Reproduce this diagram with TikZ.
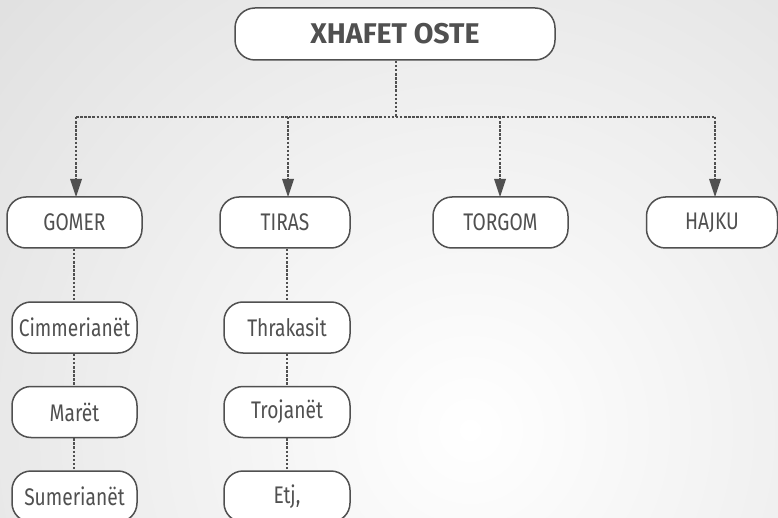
\documentclass[tikz,border=0pt]{standalone}
\usepackage{fontspec}
\setmainfont{Fira Sans}[FakeStretch=0.8]
\newfontfamily\titlefont{Fira Sans}
\usetikzlibrary{arrows.meta}
\definecolor{ink}{HTML}{505050}
\definecolor{bgout}{HTML}{CDCDCD}
\tikzset{
  box/.style={draw=ink, line width=1.5pt, fill=white, rounded corners=19pt,
    text=ink, font=\fontsize{24}{28}\selectfont, minimum height=51pt, inner sep=0pt},
  titlebox/.style={box, rounded corners=20pt, font=\titlefont\fontsize{28.5}{32}\selectfont\bfseries,
    minimum width=320pt, minimum height=52pt},
  dots/.style={draw=ink, line width=2.6pt, dash pattern=on 2.5pt off 1.6pt},
  arr/.style={dots, -{Triangle[width=12pt,length=18pt,fill=ink,line width=0pt]}}
}
\begin{document}
\begin{tikzpicture}[x=1pt,y=-1pt]
\useasboundingbox (0,0) rectangle (778,518);
\begin{scope}
\clip (0,0) rectangle (778,518);
\shade[inner color=white, outer color=bgout] (470,430) circle (1050);
\end{scope}
\node[titlebox] (top) at (395,34) {XHAFET OSTE};
\node[box, minimum width=135pt] (gomer) at (74.5,222.5) {GOMER};
\node[box, minimum width=130pt] (tiras) at (285,222.5) {TIRAS};
\node[box, minimum width=135pt] (torgom) at (500.5,222.5) {TORGOM};
\node[box, minimum width=131pt] (hajku) at (712,222.5) {HAJKU};
\node[box, minimum width=125pt] (cim) at (74.5,327.5) {Cimmerianët};
\node[box, minimum width=125pt] (mar) at (74.5,412) {Marët};
\node[box, minimum width=125pt] (sum) at (74.5,496.5) {Sumerianët};
\node[box, minimum width=126pt] (thr) at (287,327.5) {Thrakasit};
\node[box, minimum width=126pt] (tro) at (287,412) {Trojanët};
\node[box, minimum width=126pt] (etj) at (287,496.5) {Etj,};
\coordinate (hub) at (396,117);
\draw[dots] (top.south -| hub) -- (hub);
\draw[dots] (76,117) -- (715,117);
\draw[arr] (76,117) -- (76,197);
\draw[arr] (288,117) -- (288,197);
\draw[arr] (500,117) -- (500,197);
\draw[arr] (715,117) -- (715,197);
\draw[dots] (gomer.south -| 74,0) -- (cim.north -| 74,0);
\draw[dots] (cim.south -| 74,0) -- (mar.north -| 74,0);
\draw[dots] (mar.south -| 74,0) -- (sum.north -| 74,0);
\draw[dots] (tiras.south -| 287,0) -- (thr.north -| 287,0);
\draw[dots] (thr.south -| 287,0) -- (tro.north -| 287,0);
\draw[dots] (tro.south -| 287,0) -- (etj.north -| 287,0);
\end{tikzpicture}
\end{document}
